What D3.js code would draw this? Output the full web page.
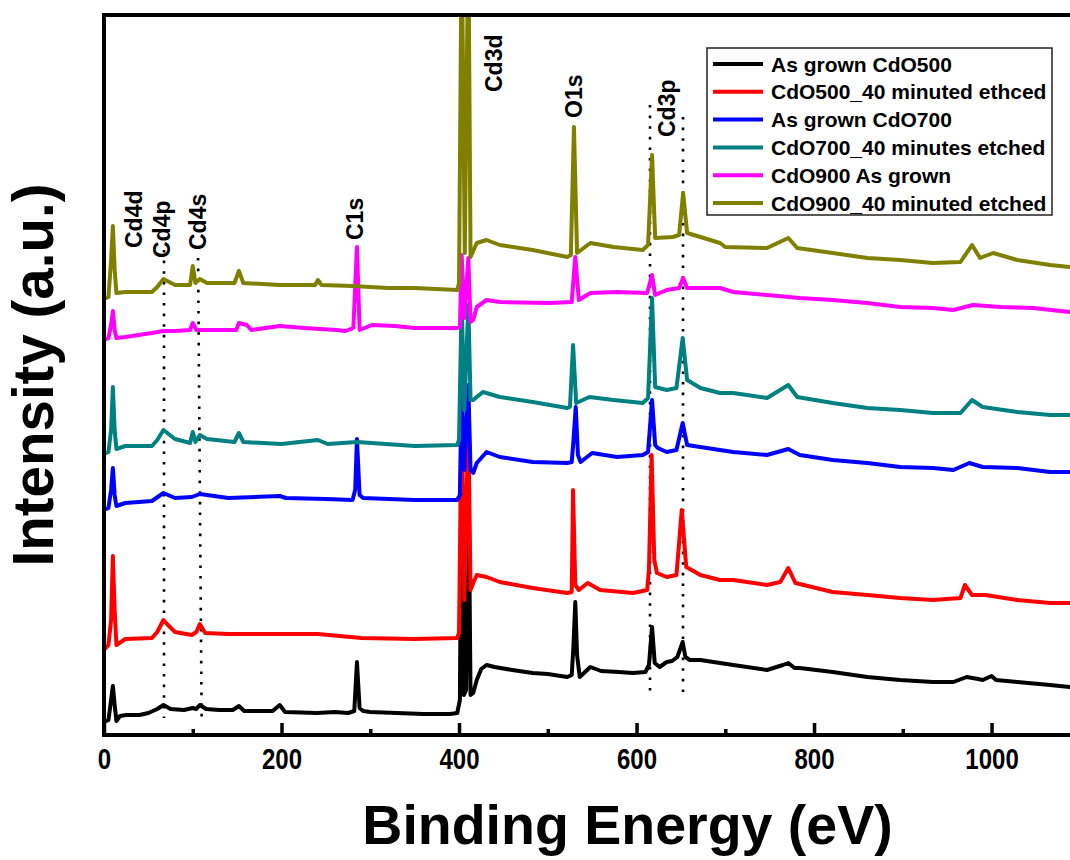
<!DOCTYPE html>
<html>
<head>
<meta charset="utf-8">
<script src="https://cdn.jsdelivr.net/npm/d3@7"></script>
<style>
  html, body { margin: 0; padding: 0; background: #fff; }
  svg { display: block; }
  text { font-family: "Liberation Sans", Arial, sans-serif; font-weight: bold; fill: #000; }
</style>
</head>
<body>
<svg id="chart" width="1070" height="860"></svg>
<script>
// ---------------- data (binding energy eV, intensity a.u.) ----------------
const seriesNames = [
  "As grown CdO500",
  "CdO500_40 minuted ethced",
  "As grown CdO700",
  "CdO700_40 minutes etched",
  "CdO900 As grown",
  "CdO900_40 minuted etched"
];

const asGrownCdO500 = [
  [0,13],[5,15],[8,35],[10,49],[12,30],[14,14],[18,19],[25,20],[40,20],[50,22],[60,26],[67,30],[75,26],[90,25],
  [100,27],[104,26],[108,30],[115,26],[130,25],[145,25],[152,29],[158,24],[190,24],[198,30],[204,23],[240,22],
  [260,23],[275,22],[282,24],[285,73],[288,27],[292,24],[300,23],[330,22],[360,21],[390,21],[398,22],[401,35],
  [403,300],[405.5,40],[408,45],[410.5,280],[413,40],[416,42],[420,55],[425,66],[431,70],[440,68],[460,65],
  [483,62],[500,61],[522,58],[527,60],[529,90],[531,133],[533,80],[536,58],[548,68],[560,64],[580,63],[596,62],
  [610,63],[614,70],[617.5,108],[620.5,72],[626,68],[634,73],[640,74],[646,78],[652,93],[655,78],[660,75],
  [672,75],[694,72],[709,70],[747,65],[765,70],[771,72],[778,67],[784,67],[821,63],[860,58],[897,55],[934,53],
  [957,53],[972,58],[985,56],[990,55],[1000,59],[1005,55],[1029,53],[1066,50],[1088,48]
];

const etchedCdO500 = [
  [0,85],[5,90],[8,115],[10,179],[12,125],[14,90],[24,96],[54,97],[60,103],[67,115],[72,110],[80,103],[99,100],
  [104,103],[108,111],[114,102],[140,101],[200,101],[241,101],[290,97],[350,96],[398,97],[400,102],[403,335],
  [406,135],[410.5,315],[413,145],[416,152],[420,160],[431,158],[446,153],[483,147],[522,142],[527,143],
  [528.5,245],[531,150],[535,145],[545,152],[559,145],[596,142],[612,145],[614,165],[617,280],[620,175],
  [623,162],[634,158],[645,160],[651,225],[656,168],[672,160],[694,155],[709,155],[747,150],[762,153],
  [771,167],[779,152],[821,143],[860,140],[897,137],[934,135],[965,137],[970,150],[978,140],[993,140],
  [1029,135],[1066,132],[1088,132]
];

const asGrownCdO700 = [
  [0,225],[5,227],[8,245],[10,267],[12,240],[14,229],[24,232],[54,234],[67,242],[80,237],[99,238],[108,241],
  [140,237],[198,239],[205,237],[250,236],[280,235],[283,245],[285,296],[288,240],[292,237],[350,235],[398,235],
  [401,240],[403,355],[406,265],[410.5,350],[413,265],[416,262],[420,272],[431,283],[446,278],[483,273],
  [522,272],[527,273],[529,295],[531.5,328],[534,280],[537,273],[550,282],[578,278],[607,280],[613,283],
  [617.5,335],[621,290],[624,287],[634,283],[645,285],[652,312],[657,290],[694,285],[709,283],[747,280],
  [771,286],[784,280],[821,275],[860,272],[897,268],[934,267],[957,265],[975,272],[990,268],[1029,267],
  [1066,263],[1088,263]
];

const etchedCdO700 = [
  [0,281],[5,283],[8,305],[10,348],[12,305],[14,286],[24,289],[54,289],[60,295],[67,305],[80,296],[97,292],
  [100,303],[103,293],[108,300],[116,296],[147,293],[152,302],[157,293],[200,291],[241,295],[252,291],
  [285,293],[350,289],[398,290],[400,295],[403,435],[406,325],[410.5,430],[413,335],[416,335],[420,338],
  [427,343],[446,338],[483,333],[522,327],[525,328],[528.5,390],[532,332],[547,338],[574,335],[607,332],
  [613,337],[617.5,437],[621,348],[634,345],[645,347],[652,397],[657,355],[672,347],[694,342],[709,342],
  [747,337],[771,350],[781,338],[821,332],[860,327],[897,325],[934,322],[965,322],[978,335],[990,328],
  [1029,323],[1066,320],[1088,320]
];

const asGrownCdO900 = [
  [0,395],[5,397],[8,410],[10,424],[12,405],[14,397],[24,398],[54,402],[67,404],[80,404],[97,405],[100,412],
  [104,405],[140,405],[149,405],[152,412],[161,410],[166,405],[198,409],[226,407],[262,405],[272,404],
  [281,407],[285,488],[288,405],[302,410],[328,409],[350,407],[398,407],[401,408],[403,480],[406,417],
  [410.5,477],[413,413],[416,415],[420,428],[431,435],[446,433],[502,432],[527,433],[531,478],[535,435],
  [548,442],[578,443],[612,442],[617.5,460],[621,440],[634,445],[648,447],[652.5,457],[657,447],[694,447],
  [709,443],[747,440],[784,437],[821,435],[860,432],[897,428],[934,427],[957,425],[979,430],[1010,428],
  [1047,427],[1088,423]
];

const etchedCdO900 = [
  [0,436],[5,438],[8,475],[10,509],[12,465],[14,442],[24,443],[54,443],[60,448],[67,456],[80,450],[97,450],
  [100,469],[103,452],[108,456],[116,452],[147,452],[152,464],[157,452],[198,450],[238,450],[241,455],
  [245,450],[280,449],[320,447],[350,447],[398,445],[400,452],[403,800],[406.5,482],[410.5,800],[413,478],
  [420,492],[431,495],[446,490],[483,485],[522,478],[526,480],[529.5,608],[533,482],[548,492],[574,488],
  [607,485],[613,490],[617.5,580],[621,497],[641,498],[648,500],[652.5,542],[657,502],[672,498],[694,492],
  [700,488],[747,487],[771,497],[781,487],[821,482],[860,477],[897,475],[934,472],[965,473],[978,490],
  [987,477],[1002,482],[1029,475],[1066,470],[1088,468]
];

const seriesData = [asGrownCdO500, etchedCdO500, asGrownCdO700, etchedCdO700, asGrownCdO900, etchedCdO900];

const xMajorTicks = [0, 200, 400, 600, 800, 1000];
const xMinorTicks = [100, 300, 500, 700, 900];

// peak labels: [text, energy, intensity where the label starts]
const peakLabels = [
  ["Cd4d", 33, 487],
  ["Cd4p", 65, 477],
  ["Cd4s", 106, 485],
  ["C1s", 282, 495],
  ["Cd3d", 439, 643],
  ["O1s", 529, 617],
  ["Cd3p", 634, 598]
];
// dotted guide lines: [E top, I top, E bottom, I bottom]
const guideLines = [
  [67.6, 485, 67.6, 17],
  [106, 477, 110, 17],
  [615.2, 630, 615.2, 37],
  [652.4, 618, 652.4, 37]
];

// ---------------- drawing ----------------
const colors = ["#000000", "#ff0000", "#0000ff", "#008080", "#ff00ff", "#808000"];
const svg = d3.select("#chart");
const L = 104, R = 1070, T = 15, B = 735;
const x = d3.scaleLinear().domain([0, 1088.4]).range([L, R]);
const y = d3.scaleLinear().domain([0, 720]).range([B, T]);

svg.append("defs").append("clipPath").attr("id", "plotclip")
  .append("rect").attr("x", L).attr("y", T).attr("width", R - L).attr("height", B - T);

const plot = svg.append("g").attr("clip-path", "url(#plotclip)");

// dotted guides
plot.selectAll("line.guide").data(guideLines).enter().append("line")
  .attr("x1", d => x(d[0])).attr("y1", d => y(d[1]))
  .attr("x2", d => x(d[2])).attr("y2", d => y(d[3]))
  .attr("stroke", "#000").attr("stroke-width", 2.6)
  .attr("stroke-dasharray", "2.6,8").attr("stroke-linecap", "butt");

const line = d3.line().x(d => x(d[0])).y(d => y(d[1]));
seriesData.forEach((s, i) => {
  plot.append("path").datum(s)
    .attr("d", line)
    .attr("fill", "none")
    .attr("stroke", colors[i])
    .attr("stroke-width", 4)
    .attr("stroke-linejoin", "round")
    .attr("stroke-linecap", "round");
});

// axes
const axW = 4;
const gx = svg.append("g").attr("transform", `translate(0,${B})`)
  .call(d3.axisBottom(x).tickValues(xMajorTicks).tickSize(-12).tickSizeOuter(0).tickPadding(13).tickFormat(d3.format("d")));
gx.select(".domain").attr("stroke-width", axW).attr("d", `M${L - 2},0H${R}`);
gx.selectAll(".tick line").attr("stroke-width", 3.5);
gx.selectAll(".tick text")
  .style("font-size", "30px").style("font-family", "'Liberation Sans', Arial, sans-serif").style("font-weight", "bold")
  .attr("transform", "scale(0.8,1)");
const gxMinor = svg.append("g").attr("transform", `translate(0,${B})`)
  .call(d3.axisBottom(x).tickValues(xMinorTicks).tickSize(-6).tickSizeOuter(0).tickFormat(""));
gxMinor.select(".domain").remove();
gxMinor.selectAll(".tick line").attr("stroke-width", 3.5);

const gy = svg.append("g").attr("transform", `translate(${L},0)`)
  .call(d3.axisLeft(y).tickValues([]).tickSizeOuter(0));
gy.select(".domain").attr("stroke-width", axW).attr("d", `M0,${T - 2}V${B + 2}`);

const gt = svg.append("g").attr("transform", `translate(0,${T})`)
  .call(d3.axisTop(x).tickValues([]).tickSizeOuter(0));
gt.select(".domain").attr("stroke-width", axW).attr("d", `M${L - 2},0H${R}`);

// axis titles
svg.append("text").attr("x", 627.5).attr("y", 844).attr("text-anchor", "middle")
  .style("font-size", "55.5px").text("Binding Energy (eV)");
svg.append("text").attr("transform", "translate(53,375) rotate(-90)").attr("text-anchor", "middle")
  .style("font-size", "56.5px").text("Intensity (a.u.)");

// peak labels
svg.selectAll("text.peak").data(peakLabels).enter().append("text")
  .attr("transform", d => `translate(${x(d[1])},${y(d[2])}) rotate(-90)`)
  .attr("dy", "0.36em")
  .style("font-size", "23px")
  .text(d => d[0]);

// legend
const lg = svg.append("g");
lg.append("rect").attr("x", 707).attr("y", 48).attr("width", 345).attr("height", 167)
  .attr("fill", "#fff").attr("stroke", "#222").attr("stroke-width", 1.5);
seriesNames.forEach((n, i) => {
  const yy = 64 + i * 27.8;
  lg.append("line").attr("x1", 713).attr("x2", 763).attr("y1", yy).attr("y2", yy)
    .attr("stroke", colors[i]).attr("stroke-width", 4);
  lg.append("text").attr("x", 771).attr("y", yy).attr("dy", "0.36em")
    .style("font-size", "21px").text(n);
});
</script>
</body>
</html>
